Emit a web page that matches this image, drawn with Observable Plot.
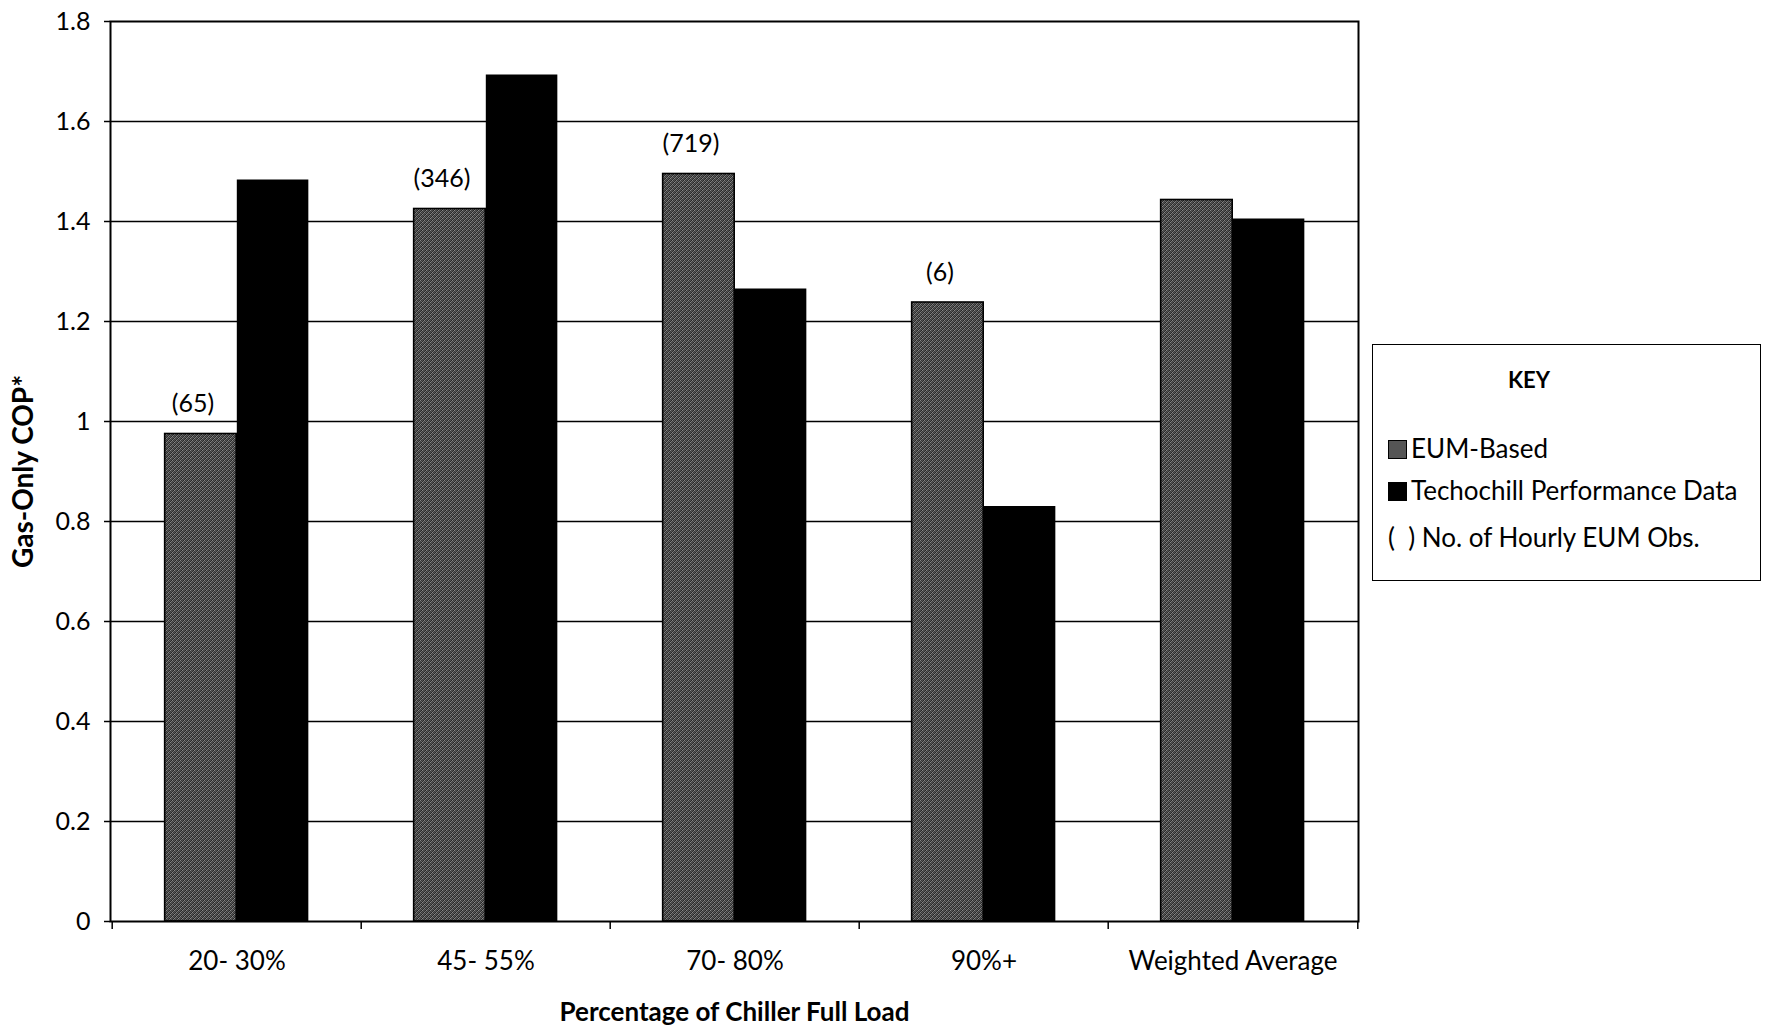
<!DOCTYPE html>
<html>
<head>
<meta charset="utf-8">
<script src="https://cdn.jsdelivr.net/npm/d3@7"></script>
<script src="https://cdn.jsdelivr.net/npm/@observablehq/plot@0.6"></script>
<style>
  body { margin: 0; background: #fff; font-family: Lato, "Open Sans", sans-serif; }
  #wrap { position: relative; width: 1766px; height: 1031px; }
  #key { position: absolute; left: 1372px; top: 344px; width: 389px; height: 237px;
         border: 1.5px solid #000; box-sizing: border-box; color: #000; }
  #key .title { position: absolute; left: 135px; top: 24px; font-size: 22px; line-height: 22px; font-weight: bold; }
  #key .item { position: absolute; left: 15px; font-size: 26px; line-height: 26px; white-space: nowrap; }
  #key .sw { display: inline-block; width: 19px; height: 19px; margin-right: 4px; vertical-align: -1px; box-sizing: border-box; }
</style>
</head>
<body>
<div id="wrap"></div>
<script>
// ---- data ----
const categories = ["20- 30%", "45- 55%", "70- 80%", "90%+", "Weighted Average"];
const eumValues  = [0.975, 1.425, 1.495, 1.238, 1.443];
const techValues = [1.483, 1.693, 1.265, 0.830, 1.405];
const obsLabels  = ["(65)", "(346)", "(719)", "(6)", ""];
const seriesNames = ["EUM-Based", "Techochill Performance Data"];
const keyNote = "(  ) No. of Hourly EUM Obs.";
const yTicks = [0, 0.2, 0.4, 0.6, 0.8, 1, 1.2, 1.4, 1.6, 1.8];
const yLabel = "Gas-Only COP*";
const xLabel = "Percentage of Chiller Full Load";

const rows = categories.map((c, i) => ({category: c, eum: eumValues[i], tech: techValues[i], obs: obsLabels[i]}));

// ---- layout ----
const W = 1766, H = 1031;
const mL = 110, mR = 408, mT = 21, mB = 110;
const band = (W - mL - mR) / categories.length;
const outerGap = band * 0.211;   // gap between band edge and bar pair
const barW = band * 0.289;
const font = "Lato, 'Open Sans', sans-serif";

const chart = Plot.plot({
  width: W,
  height: H,
  marginLeft: mL,
  marginRight: mR,
  marginTop: mT,
  marginBottom: mB,
  style: {fontFamily: font, color: "#000", background: "#fff"},
  x: {domain: categories, padding: 0},
  y: {domain: [0, 1.8]},
  marks: [
    Plot.ruleY(yTicks.filter(t => t > 0 && t < 1.8), {stroke: "#000", strokeWidth: 1.3}),
    Plot.barY(rows, {x: "category", y: "eum", fill: "url(#stipple)", stroke: "#000", strokeWidth: 1.6,
                     insetLeft: outerGap, insetRight: band - outerGap - barW}),
    Plot.barY(rows, {x: "category", y: "tech", fill: "#000",
                     insetLeft: outerGap + barW, insetRight: outerGap}),
    Plot.frame({stroke: "#000", strokeWidth: 2}),
    Plot.axisY({ticks: yTicks, tickSize: 6, tickPadding: 14, tickFormat: d3.format("~g"),
                fontSize: 25, label: null, strokeWidth: 1.5}),
    Plot.axisX({tickSize: 0, tickPadding: 30, fontSize: 26, label: null}),
    Plot.ruleX(rows, {x: "category", y1: 0, y2: 0, insetBottom: -8, dx: -band / 2, strokeWidth: 1.5}),
    Plot.ruleX(rows.slice(-1), {x: "category", y1: 0, y2: 0, insetBottom: -8, dx: band / 2, strokeWidth: 1.5}),
    Plot.text(rows.filter(r => r.obs), {x: "category", y: "eum", text: "obs", dx: -(band / 2 - outerGap - barW / 2) - 8,
                                        dy: -22, fontSize: 25, lineAnchor: "bottom", textAnchor: "middle"}),
    Plot.text([yLabel], {text: d => d, frameAnchor: "left", rotate: -90, dx: -86, fontSize: 28,
                         fontWeight: "bold", textAnchor: "middle", lineAnchor: "middle"}),
    Plot.text([xLabel], {text: d => d, frameAnchor: "bottom", dy: 91, fontSize: 26,
                         fontWeight: "bold", textAnchor: "middle", lineAnchor: "middle"})
  ]
});

// stipple pattern for EUM bars
const ns = "http://www.w3.org/2000/svg";
const defs = document.createElementNS(ns, "defs");
const pat = document.createElementNS(ns, "pattern");
pat.setAttribute("id", "stipple");
pat.setAttribute("patternUnits", "userSpaceOnUse");
pat.setAttribute("width", "4");
pat.setAttribute("height", "4");
const cells = [
  [0,0,"#858585"],[1,0,"#333333"],[2,0,"#555555"],[3,0,"#262626"],
  [0,1,"#404040"],[1,1,"#686868"],[2,1,"#2b2b2b"],[3,1,"#777777"],
  [0,2,"#4d4d4d"],[1,2,"#222222"],[2,2,"#8a8a8a"],[3,2,"#424242"],
  [0,3,"#313131"],[1,3,"#737373"],[2,3,"#383838"],[3,3,"#5a5a5a"]
];
for (const [cx, cy, col] of cells) {
  const r = document.createElementNS(ns, "rect");
  r.setAttribute("x", cx); r.setAttribute("y", cy);
  r.setAttribute("width", 1); r.setAttribute("height", 1);
  r.setAttribute("fill", col);
  pat.appendChild(r);
}
defs.appendChild(pat);
chart.insertBefore(defs, chart.firstChild);

const wrap = document.getElementById("wrap");
wrap.appendChild(chart);

// key box
const key = document.createElement("div");
key.id = "key";
const title = document.createElement("div");
title.className = "title";
title.textContent = "KEY";
key.appendChild(title);
const tops = [90, 132, 179];
seriesNames.forEach((name, i) => {
  const it = document.createElement("div");
  it.className = "item";
  it.style.top = tops[i] + "px";
  const sw = document.createElement("span");
  sw.className = "sw";
  sw.style.background = i === 0 ? "#555" : "#000";
  if (i === 0) sw.style.border = "1.5px solid #000";
  it.appendChild(sw);
  it.appendChild(document.createTextNode(name));
  key.appendChild(it);
});
const note = document.createElement("div");
note.className = "item";
note.style.top = tops[2] + "px";
note.style.whiteSpace = "pre";
note.textContent = keyNote;
key.appendChild(note);
wrap.appendChild(key);
</script>
</body>
</html>
